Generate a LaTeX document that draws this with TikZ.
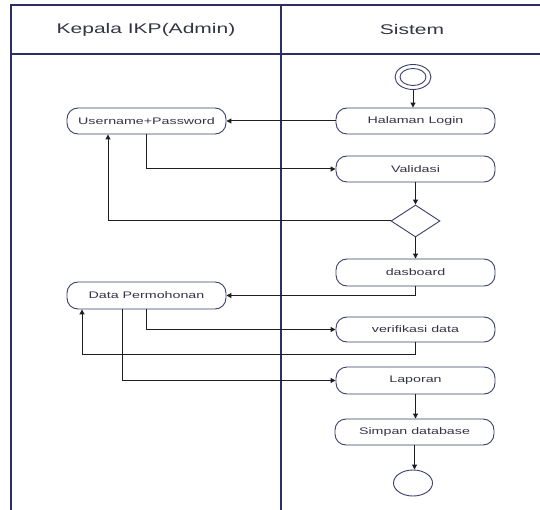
\documentclass[tikz,border=0pt]{standalone}
\usepackage{fontspec}
\setmainfont{Liberation Sans}
\usepackage{graphicx}
\usetikzlibrary{arrows.meta,shapes.geometric}

\definecolor{lanec}{HTML}{2B2F66}
\definecolor{boxc}{HTML}{3A3F6E}
\definecolor{linec}{HTML}{1E1E1E}
\definecolor{txtc}{HTML}{343447}

% labels are set in a wide face
\newcommand{\widetext}[1]{\scalebox{1.5}[1]{#1}}

\tikzset{
  x=1pt, y=-1pt,
  lane/.style={draw=lanec, line width=1.1pt},
  actbox/.style={draw=boxc, line width=0.9pt, rounded corners=11pt,
    minimum width=159pt, minimum height=26pt, inner sep=0pt,
    font=\fontsize{9.5}{11}\selectfont, text=txtc},
  headtext/.style={font=\fontsize{14}{16}\selectfont, text=txtc, inner sep=0pt},
  choice/.style={draw=boxc, line width=0.9pt, diamond, aspect=1.53,
    minimum width=49pt, minimum height=32pt, inner sep=0pt},
  oval/.style={draw=boxc, line width=0.9pt, ellipse, inner sep=0pt},
  flow/.style={draw=linec, line width=1pt, -{Triangle[length=5pt,width=5pt]}},
}

\begin{document}
\begin{tikzpicture}
  \useasboundingbox (0,0) rectangle (540,510);
  \fill[white] (0,0) rectangle (540,510);

  % swimlane frame
  \draw[lane] (540,5) -- (11,5) -- (11,510);
  \draw[lane] (11,54) -- (540,54);
  \draw[lane] (281,5) -- (281,510);

  \node[headtext] (h1) at (146,30) {\widetext{Kepala IKP(Admin)}};
  \node[headtext] (h2) at (412,30) {\widetext{Sistem}};

  % activities
  \node[oval, minimum width=36pt, minimum height=25pt] (start) at (413,77) {};
  \node[oval, minimum width=26pt, minimum height=17pt] (startin) at (413,77) {};

  \node[actbox] (login) at (415.5,121) {\widetext{Halaman Login}};
  \node[actbox] (user) at (146.5,121) {\widetext{Username+Password}};
  \node[actbox] (valid) at (415.5,169) {\widetext{Validasi}};
  \node[choice] (dec) at (415.5,221) {};
  \node[actbox, minimum height=27pt] (dash) at (415.5,272.5) {\widetext{dasboard}};
  \node[actbox, minimum height=27pt] (data) at (146.5,295.5) {\widetext{Data Permohonan}};
  \node[actbox, minimum height=25pt] (verif) at (415.5,329.5) {\widetext{verifikasi data}};
  \node[actbox, minimum height=27pt] (lap) at (415.5,380.5) {\widetext{Laporan}};
  \node[actbox] (simpan) at (414.5,432) {\widetext{Simpan database}};
  \node[oval, minimum width=39pt, minimum height=26pt] (end) at (413,483) {};

  % control flow
  \draw[flow] (start) -- (start |- login.north);
  \draw[flow] (login.west) -- (user.east);
  \draw[flow] (user.south) |- (valid.west);
  \draw[flow] (valid.south) -- (dec.north);
  \draw[flow] (dec.west) -| ([xshift=-38.5pt]user.south);
  \draw[flow] (dec.south) -- (dash.north);
  \draw[flow] (dash.south) |- (data.east);
  \draw[flow] (data.south) |- (verif.west);
  \draw[flow] (verif.south) -- ++(0,12) -| ([xshift=-64.5pt]data.south);
  \draw[flow] ([xshift=-24.5pt]data.south) |- (lap.west);
  \draw[flow] (lap.south) -- (lap.south |- simpan.north);
  \draw[flow] (simpan.south) -- (simpan.south |- end.north);
\end{tikzpicture}
\end{document}
